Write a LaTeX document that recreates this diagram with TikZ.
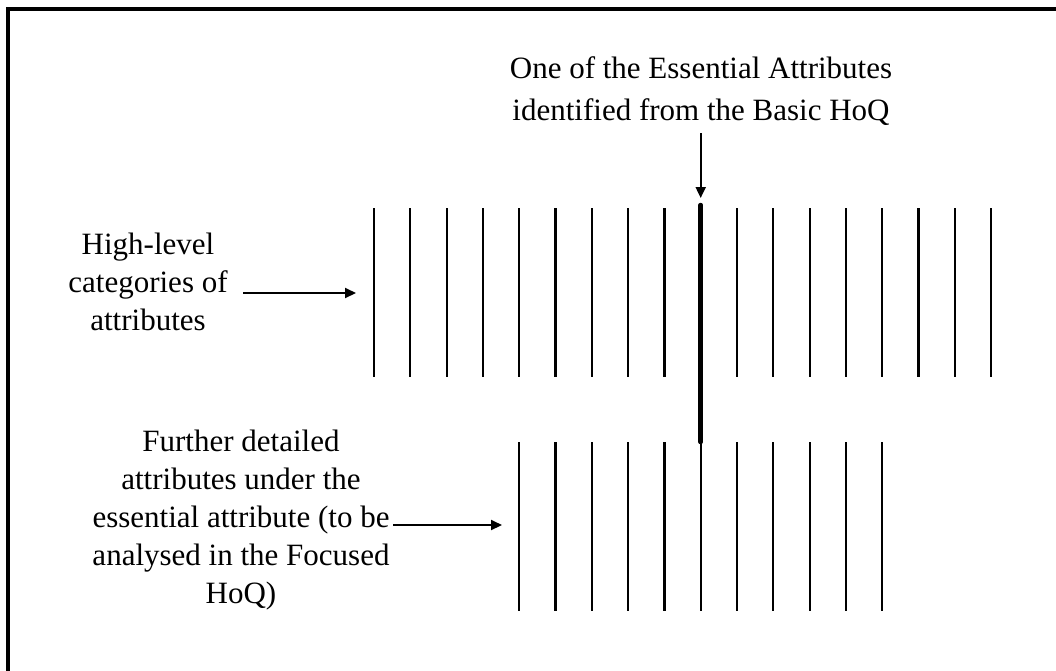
\documentclass[tikz,border=0pt]{standalone}
\usepackage{fontspec}
\setmainfont{Liberation Serif}
\usetikzlibrary{arrows.meta}
\begin{document}
\begin{tikzpicture}[x=1pt,y=-1pt,
  txt/.style={font=\fontsize{31}{38}\selectfont, align=center, inner sep=0pt},
  bar/.style={line width=2.2pt},
  keybar/.style={line width=4.5pt, line cap=round},
  pointer/.style={line width=2pt, -{Triangle[length=11pt,width=10pt]}},
  frame/.style={line width=3.5pt}]
\useasboundingbox (0,0) rectangle (1056,670);
% outer frame (only the top and left edges fall inside the page)
\draw[frame] (8,700) -- (8,9) -- (1100,9);

% high-level categories of attributes
\foreach \i [evaluate=\i as \x using 374+\i*36.3] in {0,...,17}{
  \ifnum\i=9\relax\else\draw[bar] (\x,208) -- (\x,377);\fi
}
% the essential attribute, carried down into the detailed level
\coordinate (keytop) at (700.7,205);
\coordinate (keybot) at (700.7,442);
\draw[keybar] (keytop) -- (keybot);

% detailed attributes under the essential attribute
\foreach \i [evaluate=\i as \x using 519.2+\i*36.3] in {0,...,10}{
  \draw[bar] (\x,442) -- (\x,611);
}

% labels (anchored at the baseline of their last line)
\node[txt, font=\fontsize{31}{42}\selectfont, anchor=base] (essential) at (701,120)
  {One of the Essential Attributes\\identified from the Basic HoQ};
\node[txt, anchor=base] (highlevel) at (148,330)
  {High-level\\categories of\\attributes};
\node[txt, anchor=base] (detailed) at (241,603)
  {Further detailed\\attributes under the\\essential attribute (to be\\analysed in the Focused\\HoQ)};

% pointers
\coordinate (essFrom) at (700.7,133);
\coordinate (essTo) at (700.7,198);
\coordinate (hlFrom) at (243,293);
\coordinate (hlTo) at (356,293);
\coordinate (dtFrom) at (393,525);
\coordinate (dtTo) at (502,525);
\draw[pointer] (essFrom) -- (essTo);
\draw[pointer] (hlFrom) -- (hlTo);
\draw[pointer] (dtFrom) -- (dtTo);
\end{tikzpicture}
\end{document}
